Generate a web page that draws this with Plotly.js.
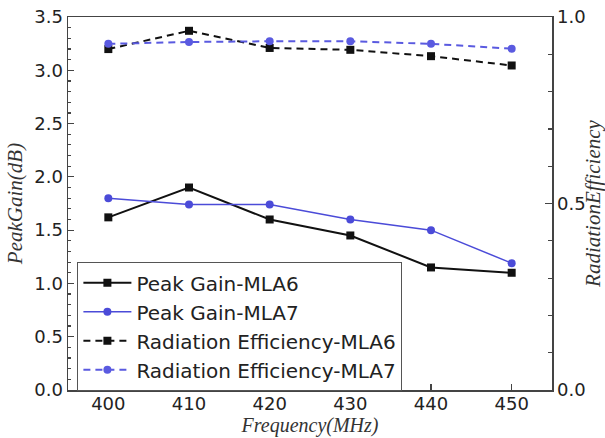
<!DOCTYPE html>
<html>
<head>
<meta charset="utf-8">
<script src="https://cdn.plot.ly/plotly-3.0.1.min.js"></script>
<style>html,body{margin:0;padding:0;background:#fff;}#chart{width:605px;height:438px;}</style>
</head>
<body>
<div id="chart"></div>
<script>
const frequency = [400, 410, 420, 430, 440, 450];
const peakGainMLA6 = [1.62, 1.90, 1.60, 1.45, 1.15, 1.10];
const peakGainMLA7 = [1.80, 1.74, 1.74, 1.60, 1.50, 1.19];
const radEffMLA6 = [0.914, 0.963, 0.917, 0.912, 0.895, 0.870];
const radEffMLA7 = [0.928, 0.933, 0.935, 0.935, 0.928, 0.915];
const seriesNames = ['Peak Gain-MLA6', 'Peak Gain-MLA7', 'Radiation Efficiency-MLA6', 'Radiation Efficiency-MLA7'];

const black = '#111111';
const blue = '#4b4bd8';
const traces = [
  {x: frequency, y: peakGainMLA6, name: seriesNames[0], mode: 'lines+markers', yaxis: 'y',
   line: {color: black, width: 2}, marker: {symbol: 'square', size: 8, color: black}},
  {x: frequency, y: peakGainMLA7, name: seriesNames[1], mode: 'lines+markers', yaxis: 'y',
   line: {color: blue, width: 1.5}, marker: {symbol: 'circle', size: 8, color: blue}},
  {x: frequency, y: radEffMLA6, name: seriesNames[2], mode: 'lines+markers', yaxis: 'y2',
   line: {color: black, width: 2, dash: '7px,5px'}, marker: {symbol: 'square', size: 8, color: black}},
  {x: frequency, y: radEffMLA7, name: seriesNames[3], mode: 'lines+markers', yaxis: 'y2',
   line: {color: '#5a5ae0', width: 2, dash: '7px,5px'}, marker: {symbol: 'circle', size: 8, color: '#5a5ae0'}}
];

const tickFont = {family: 'DejaVu Sans, sans-serif', size: 18, color: '#222'};
const titleFont = {family: 'Liberation Serif, serif', size: 21, color: '#333', style: 'italic'};
const lineColor = '#444';

const layout = {
  width: 605, height: 438,
  margin: {l: 68, r: 53, t: 17, b: 48},
  paper_bgcolor: '#fff', plot_bgcolor: '#fff',
  showlegend: true,
  legend: {x: 0.019, y: 0.343, xanchor: 'left', yanchor: 'top',
    bgcolor: '#fff', bordercolor: '#555', borderwidth: 1.2,
    font: {family: 'DejaVu Sans, sans-serif', size: 20, color: '#222'},
    itemwidth: 48},
  xaxis: {range: [395, 455], tickvals: frequency, ticktext: frequency.map(String),
    ticks: 'inside', ticklen: 6, tickcolor: lineColor, tickwidth: 1.2, ticklabelstandoff: -3,
    showline: true, linecolor: lineColor, linewidth: 1.5, mirror: true,
    showgrid: false, zeroline: false, tickfont: tickFont,
    title: {text: 'Frequency(MHz)', font: {family: 'Liberation Serif, serif', size: 20, color: '#333', style: 'italic'}, standoff: 3}},
  yaxis: {range: [0, 3.5], dtick: 0.5, tickformat: '.1f',
    ticks: 'inside', ticklen: 6, tickcolor: lineColor, tickwidth: 1.2,
    minor: {dtick: 0.1, ticks: 'inside', ticklen: 3, tickcolor: lineColor, showgrid: false},
    showline: true, linecolor: lineColor, linewidth: 1.5, mirror: true,
    showgrid: false, zeroline: false, tickfont: tickFont,
    title: {text: 'PeakGain(dB)', font: titleFont, standoff: 6}},
  yaxis2: {range: [0, 1], dtick: 0.5, tickformat: '.1f', overlaying: 'y', side: 'right',
    ticks: 'inside', ticklen: 7, tickcolor: lineColor, tickwidth: 1.2,
    minor: {dtick: 0.1, ticks: 'inside', ticklen: 4, tickcolor: lineColor, showgrid: false},
    showline: true, linecolor: lineColor, linewidth: 1.5,
    showgrid: false, zeroline: false, tickfont: tickFont,
    title: {text: 'RadiationEfficiency', font: titleFont, standoff: 4}}
};

Plotly.newPlot('chart', traces, layout, {displayModeBar: false, staticPlot: true});
</script>
</body>
</html>
